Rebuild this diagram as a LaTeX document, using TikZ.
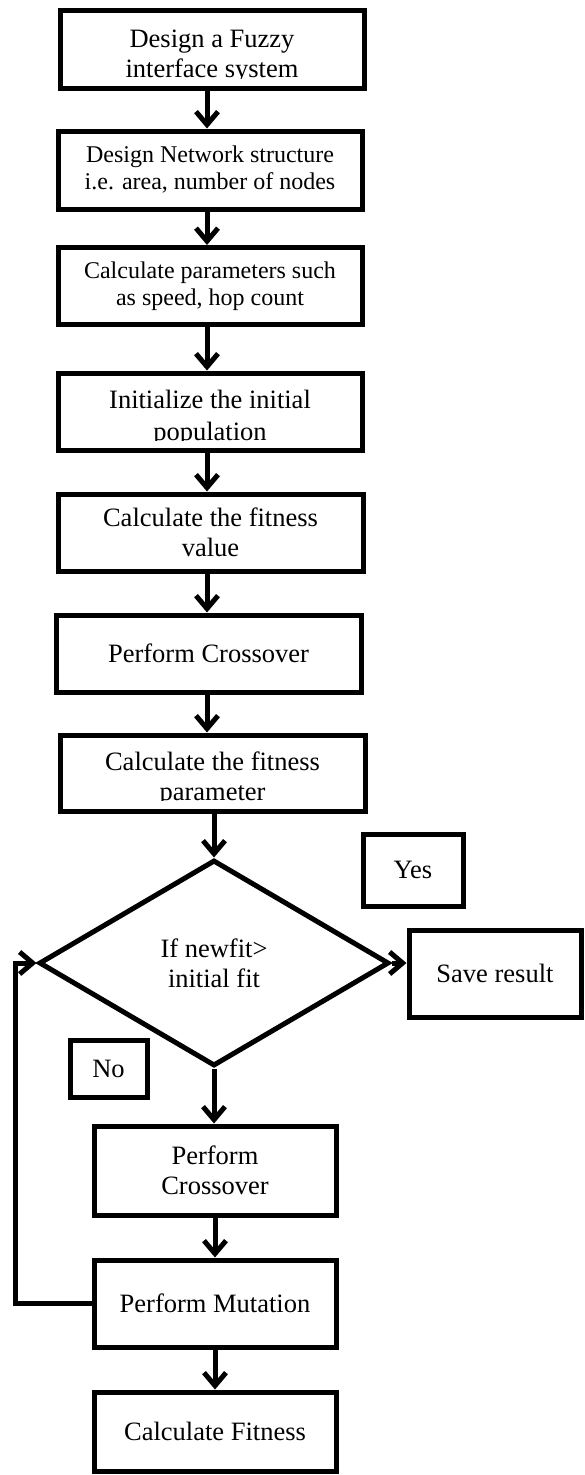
\documentclass[tikz,border=0pt]{standalone}
\usepackage{fontspec}
\setmainfont{Liberation Serif}
\usetikzlibrary{arrows.meta,shapes.geometric}
\newcommand\fbig{\fontsize{26.5}{30}\selectfont}
\newcommand\fmid{\fontsize{24}{27}\selectfont}
\tikzset{
  box/.style={draw, line width=5pt, inner sep=0pt, align=center, font=\fbig},
  txt/.style={inner sep=0pt, font=\fbig, anchor=base},
  arr/.style={line width=5pt, line join=miter, -{Straight Barb[length=13pt,width=22pt]}},
}
\begin{document}
\begin{tikzpicture}[x=1pt,y=-1pt]
\useasboundingbox (0,0) rectangle (584,1475);
\fill[white] (0,0) rectangle (584,1475);
\coordinate (ax) at (207,0);
\coordinate (lp) at (15,0);
% boxes
\node[box, minimum width=304pt, minimum height=78pt] (b1) at (212,49) {};
\node[box, minimum width=304pt, minimum height=78pt, font=\fmid] (b2) at (210,170) {Design Network structure\\i.e. area, number of nodes};
\node[box, minimum width=304pt, minimum height=77pt, font=\fmid] (b3) at (210,286) {Calculate parameters such\\as speed, hop count};
\node[box, minimum width=304pt, minimum height=77pt] (b4) at (210,411.5) {};
\node[box, minimum width=305pt, minimum height=77pt] (b5) at (210.5,532.5) {Calculate the fitness\\value};
\node[box, minimum width=305pt, minimum height=77pt] (b6) at (208.5,653.5) {Perform Crossover};
\node[box, minimum width=305pt, minimum height=76pt] (b7) at (212.5,773) {};
\node[box, shape=diamond, aspect=1.7, minimum width=350pt, minimum height=206pt] (d) at (214,963) {If newfit>\\initial fit};
\node[box, minimum width=100pt, minimum height=72pt] (yes) at (413,870) {Yes};
\node[box, minimum width=172pt, minimum height=87pt] (sr) at (495,973.5) {Save result};
\node[box, minimum width=77pt, minimum height=57pt] (no) at (108.5,1068.5) {No};
\node[box, minimum width=242pt, minimum height=89pt] (b8) at (215,1170.5) {Perform\\Crossover};
\node[box, minimum width=242pt, minimum height=87pt] (b9) at (215,1303.5) {Perform Mutation};
\node[box, minimum width=242pt, minimum height=79pt] (b10) at (215,1431.5) {Calculate Fitness};
% texts of boxes whose last line is cut at the baseline
\node[txt] (t1a) at (212,47) {Design a Fuzzy};
\begin{scope}
  \clip (0,0) rectangle (584,78);
  \node[txt] (t1b) at (212,77) {interface system};
\end{scope}
\node[txt] (t4a) at (210,408) {Initialize the initial};
\begin{scope}
  \clip (0,380) rectangle (584,440);
  \node[txt] (t4b) at (210,440) {population};
\end{scope}
\node[txt] (t7a) at (212.5,770) {Calculate the fitness};
\begin{scope}
  \clip (0,740) rectangle (584,800.5);
  \node[txt] (t7b) at (212.5,800) {parameter};
\end{scope}
% connectors
\draw[arr] (b1.south -| ax) -- (b2.north -| ax);
\draw[arr] (b2.south -| ax) -- (b3.north -| ax);
\draw[arr] (b3.south -| ax) -- (b4.north -| ax);
\draw[arr] (b4.south -| ax) -- (b5.north -| ax);
\draw[arr] (b5.south -| ax) -- (b6.north -| ax);
\draw[arr] (b6.south -| ax) -- (b7.north -| ax);
\draw[arr] (b7.south -| d.north) -- (d.north);
\draw[arr] (d.east) -- (d.east -| sr.west);
\draw[arr] (d.south) -- (d.south |- b8.north);
\draw[arr] (b8.south) -- (b9.north);
\draw[arr] (b9.south) -- (b10.north);
\draw[arr] (b9.west) -- (b9.west -| lp) -- (d.west -| lp) -- (d.west);
\end{tikzpicture}
\end{document}
